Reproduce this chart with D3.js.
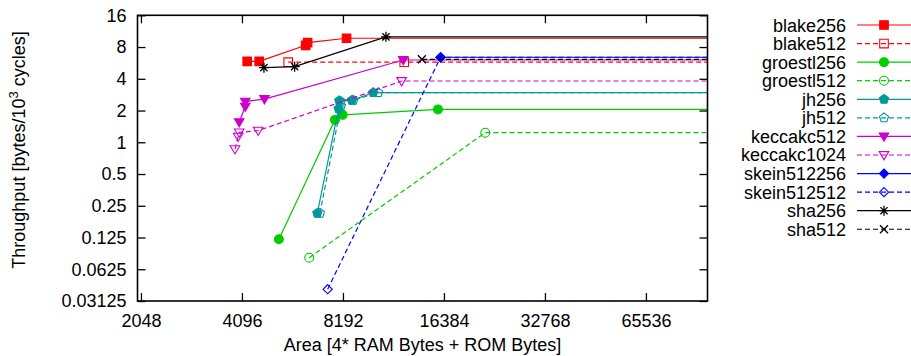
<!DOCTYPE html>
<html>
<head>
<meta charset="utf-8">
<script src="https://cdn.jsdelivr.net/npm/d3@7"></script>
<style>
  html, body { margin: 0; padding: 0; background: #fff; }
  svg { display: block; }
  text { font-family: "Liberation Sans", Arial, Helvetica, sans-serif; fill: #000; }
</style>
</head>
<body>
<svg id="chart" width="911" height="356"></svg>
<script>
// Area [4*RAM + ROM bytes] and throughput [bytes / 10^3 cycles] per implementation.
// The last entry of every series is an area beyond the plotted range, so the
// curve runs on to the right border at its final throughput.
const blake256Area = [4247, 4611, 6342, 6428, 8397, 131072];
const blake256Tput = [5.86, 5.86, 8.31, 8.80, 9.69, 9.69];
const blake512Area = [5627, 12477, 131072];
const blake512Tput = [5.75, 5.75, 5.75];
const groestl256Area = [5278, 7754, 8175, 15725, 131072];
const groestl256Tput = [0.1204, 1.63, 1.82, 2.05, 2.05];
const groestl512Area = [6499, 21752, 131072];
const groestl512Tput = [0.0805, 1.233, 1.233];
const jh256Area = [6870, 7951, 7984, 8713, 10085, 131072];
const jh256Tput = [0.212, 2.08, 2.48, 2.50, 2.96, 2.96];
const jh512Area = [6994, 8077, 8077, 8800, 10434, 131072];
const jh512Tput = [0.212, 2.20, 2.44, 2.50, 2.96, 2.96];
const keccakc512Area = [4019, 4190, 4190, 4780, 12392, 131072];
const keccakc512Tput = [1.55, 2.18, 2.43, 2.57, 6.03, 6.03];
const keccakc1024Area = [3904, 3991, 4019, 4579, 12254, 131072];
const keccakc1024Tput = [0.86, 1.13, 1.24, 1.29, 3.81, 3.81];
const skein512256Area = [16012, 131072];
const skein512256Tput = [6.40, 6.40];
const skein512512Area = [7377, 16012, 131072];
const skein512512Tput = [0.0404, 6.40, 6.40];
const sha256Area = [4763, 5881, 11004, 131072];
const sha256Tput = [5.10, 5.21, 10.0, 10.0];
const sha512Area = [14083, 131072];
const sha512Tput = [6.12, 6.12];

const xTicks = [2048, 4096, 8192, 16384, 32768, 65536];
const yTicks = [0.03125, 0.0625, 0.125, 0.25, 0.5, 1, 2, 4, 8, 16];

const seriesNames = ["blake256", "blake512", "groestl256", "groestl512", "jh256", "jh512",
  "keccakc512", "keccakc1024", "skein512256", "skein512512", "sha256", "sha512"];
const seriesArea = [blake256Area, blake512Area, groestl256Area, groestl512Area, jh256Area, jh512Area,
  keccakc512Area, keccakc1024Area, skein512256Area, skein512512Area, sha256Area, sha512Area];
const seriesTput = [blake256Tput, blake512Tput, groestl256Tput, groestl512Tput, jh256Tput, jh512Tput,
  keccakc512Tput, keccakc1024Tput, skein512256Tput, skein512512Tput, sha256Tput, sha512Tput];

// Styling per series
const colors = ["#ff0000", "#ff0000", "#00cc00", "#00cc00", "#009999", "#009999",
  "#cc00cc", "#cc00cc", "#0000ff", "#0000ff", "#000000", "#000000"];
const dashed = [false, true, false, true, false, true, false, true, false, true, false, true];
const markers = ["square", "square", "circle", "circle", "pentagon", "pentagon",
  "triDown", "triDown", "diamond", "diamond", "star", "times"];
const filled = [true, false, true, false, true, false, true, false, true, false, false, false];

const svg = d3.select("#chart");
const plot = { left: 137.5, right: 707.5, top: 15.3, bottom: 301 };

const x = d3.scaleLog().base(2).domain([2000, 100000]).range([plot.left, plot.right]);
const y = d3.scaleLog().base(2).domain([0.03125, 16]).range([plot.bottom, plot.top]);

svg.append("defs").append("clipPath").attr("id", "plotClip")
  .append("rect")
  .attr("x", plot.left).attr("y", plot.top - 6)
  .attr("width", plot.right - plot.left).attr("height", plot.bottom - plot.top + 12);

// Marker path generators, centred on 0,0
function markerPath(kind) {
  if (kind === "square") return "M-4.3,-4.3H4.3V4.3H-4.3Z";
  if (kind === "circle") return d3.symbol(d3.symbolCircle, 62)();
  if (kind === "diamond") return "M0,-4.6L4.6,0L0,4.6L-4.6,0Z";
  if (kind === "triDown") return "M-4.8,-3.4L4.8,-3.4L0,4.8Z";
  if (kind === "pentagon") {
    const r = 4.8, pts = [];
    for (let i = 0; i < 5; i++) {
      const a = -Math.PI / 2 + i * 2 * Math.PI / 5;
      pts.push([r * Math.cos(a), r * Math.sin(a)]);
    }
    return "M" + pts.map(p => p.join(",")).join("L") + "Z";
  }
  if (kind === "star") return "M-5,0H5M0,-5V5M-3.6,-3.6L3.6,3.6M-3.6,3.6L3.6,-3.6";
  if (kind === "times") return "M-4,-4L4,4M-4,4L4,-4";
  return "";
}

function styleMarker(sel, i) {
  const solidFill = filled[i];
  const strokeOnly = markers[i] === "star" || markers[i] === "times";
  sel.attr("d", markerPath(markers[i]))
    .attr("fill", solidFill ? colors[i] : "none")
    .attr("stroke", colors[i])
    .attr("stroke-width", strokeOnly ? 1.3 : 1.1);
}

// Axes with inward ticks on all four sides
const tickLen = 8;
const fmtTick = d => String(d);

svg.append("g")
  .attr("transform", `translate(0,${plot.bottom})`)
  .call(d3.axisBottom(x).tickValues(xTicks).tickFormat(fmtTick)
    .tickSizeInner(-tickLen).tickSizeOuter(0).tickPadding(13))
  .call(g => g.select(".domain").remove())
  .call(g => g.selectAll("text").attr("font-size", 18).attr("font-family", null));

svg.append("g")
  .attr("transform", `translate(0,${plot.top})`)
  .call(d3.axisTop(x).tickValues(xTicks).tickFormat("")
    .tickSizeInner(-tickLen).tickSizeOuter(0))
  .call(g => g.select(".domain").remove());

svg.append("g")
  .attr("transform", `translate(${plot.left},0)`)
  .call(d3.axisLeft(y).tickValues(yTicks).tickFormat(fmtTick)
    .tickSizeInner(-tickLen).tickSizeOuter(0).tickPadding(11))
  .call(g => g.select(".domain").remove())
  .call(g => g.selectAll("text").attr("font-size", 18).attr("font-family", null));

svg.append("g")
  .attr("transform", `translate(${plot.right},0)`)
  .call(d3.axisRight(y).tickValues(yTicks).tickFormat("")
    .tickSizeInner(-tickLen).tickSizeOuter(0))
  .call(g => g.select(".domain").remove());

svg.selectAll(".tick line").attr("stroke", "#000").attr("stroke-width", 1.3);

// Series lines and markers
const lineGen = d3.line().x(d => x(d[0])).y(d => y(d[1]));
const dataG = svg.append("g").attr("clip-path", "url(#plotClip)");

seriesNames.forEach((name, i) => {
  const pts = seriesArea[i].map((a, k) => [a, seriesTput[i][k]]);
  const g = dataG.append("g").attr("class", "series " + name);
  g.append("path")
    .datum(pts)
    .attr("d", lineGen)
    .attr("fill", "none")
    .attr("stroke", colors[i])
    .attr("stroke-width", 1.2)
    .attr("stroke-dasharray", dashed[i] ? "5,3" : null);
  g.selectAll("path.marker")
    .data(pts.filter(p => p[0] <= x.domain()[1]))
    .join("path")
    .attr("class", "marker")
    .attr("transform", d => `translate(${x(d[0])},${y(d[1])})`)
    .call(sel => styleMarker(sel, i));
});

// Plot frame
svg.append("rect")
  .attr("x", plot.left).attr("y", plot.top)
  .attr("width", plot.right - plot.left).attr("height", plot.bottom - plot.top)
  .attr("fill", "none").attr("stroke", "#000").attr("stroke-width", 1.6);

// Axis titles
svg.append("text")
  .attr("x", (plot.left + plot.right) / 2).attr("y", 351)
  .attr("text-anchor", "middle").attr("font-size", 18)
  .text("Area [4* RAM Bytes + ROM Bytes]");

const yTitle = svg.append("text")
  .attr("transform", "translate(25,150) rotate(-90)")
  .attr("text-anchor", "middle").attr("font-size", 18);
yTitle.append("tspan").text("Throughput [bytes/10");
yTitle.append("tspan").attr("font-size", 13).attr("dy", -7).text("3");
yTitle.append("tspan").attr("dy", 7).text(" cycles]");

// Legend
const legend = svg.append("g");
const legendTop = 25, legendStep = 18.57;
seriesNames.forEach((name, i) => {
  const ry = legendTop + i * legendStep;
  const row = legend.append("g");
  row.append("text")
    .attr("x", 846).attr("y", ry + 6.5)
    .attr("text-anchor", "end").attr("font-size", 18)
    .text(name);
  row.append("line")
    .attr("x1", 857).attr("x2", 911).attr("y1", ry).attr("y2", ry)
    .attr("stroke", colors[i]).attr("stroke-width", 1.2)
    .attr("stroke-dasharray", dashed[i] ? "5,3" : null);
  row.append("path")
    .attr("transform", `translate(884,${ry})`)
    .call(sel => styleMarker(sel, i));
});
</script>
</body>
</html>
